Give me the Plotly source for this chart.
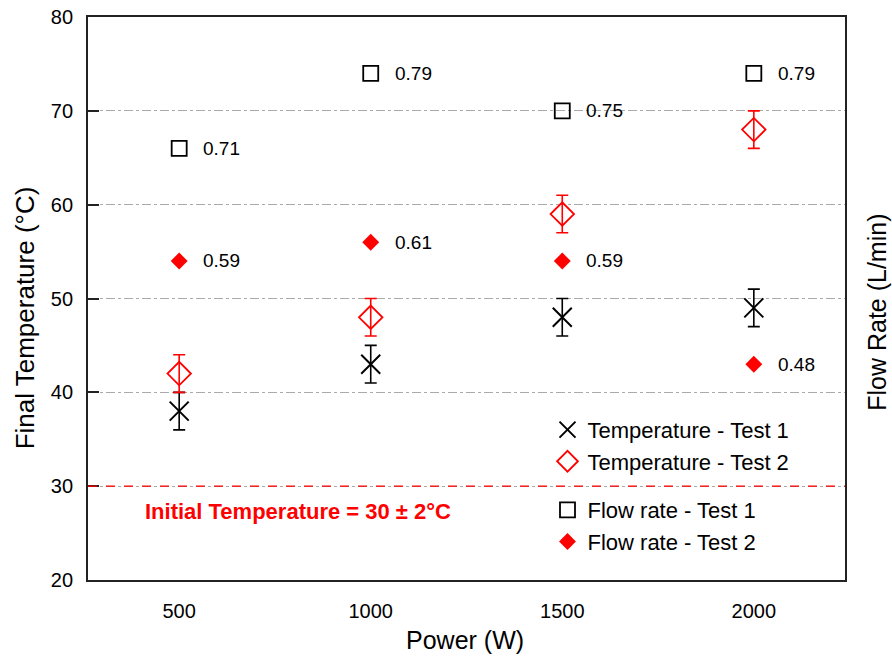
import plotly.graph_objects as go

# Heater power settings (W)
power = [500, 1000, 1500, 2000]

# Final water temperature (°C) with ±2 °C uncertainty
temp_test1 = [38, 43, 48, 49]
temp_test2 = [42, 48, 59, 68]
temp_err = [2, 2, 2, 2]

# Measured flow rate (L/min)
flow_test1 = [0.71, 0.79, 0.75, 0.79]
flow_test2 = [0.59, 0.61, 0.59, 0.48]

FONT = "Liberation Sans, Arial, sans-serif"
RED = "#ff0000"
FRAME = "#222222"

fig = go.Figure()

fig.add_trace(go.Scatter(
    x=power, y=temp_test1, mode="markers", name="Temperature - Test 1",
    legendgroup="temp",
    marker=dict(symbol="x-thin-open", size=19, color="black",
                line=dict(width=2, color="black")),
    error_y=dict(type="data", array=temp_err, visible=True,
                 color="black", thickness=1.6, width=6),
))
fig.add_trace(go.Scatter(
    x=power, y=temp_test2, mode="markers", name="Temperature - Test 2",
    legendgroup="temp",
    marker=dict(symbol="diamond-open", size=18, color=RED,
                line=dict(width=1.8, color=RED)),
    error_y=dict(type="data", array=temp_err, visible=True,
                 color=RED, thickness=1.6, width=6),
))
fig.add_trace(go.Scatter(
    x=power, y=flow_test1, mode="markers", name="Flow rate - Test 1",
    legendgroup="flow", yaxis="y2",
    marker=dict(symbol="square-open", size=15, color="black",
                line=dict(width=1.8, color="#222")),
))
fig.add_trace(go.Scatter(
    x=power, y=flow_test2, mode="markers", name="Flow rate - Test 2",
    legendgroup="flow", yaxis="y2",
    marker=dict(symbol="diamond", size=13, color=RED),
))

# Value labels next to the flow-rate markers
for series in (flow_test1, flow_test2):
    for p, f in zip(power, series):
        fig.add_annotation(
            x=p, y=f, yref="y2", text=f"{f:.2f}", showarrow=False,
            xanchor="left", yanchor="middle", xshift=22,
            font=dict(family=FONT, size=19, color="black"),
        )

# Initial temperature reference line
initial_temp = 30
fig.add_shape(type="line", xref="x domain", yref="y", x0=0, x1=1,
              y0=initial_temp, y1=initial_temp,
              line=dict(color=RED, width=1.4, dash="dash"))
fig.add_annotation(
    x=0.277, xref="paper", y=27.25, yref="y",
    xanchor="center", yanchor="middle",
    text=f"<b>Initial Temperature = {initial_temp} ± 2°C</b>",
    showarrow=False, font=dict(family=FONT, size=22, color=RED),
)

# Axis titles
fig.add_annotation(
    x=0.498, xref="paper", y=-0.107, yref="paper", text="Power (W)",
    showarrow=False, xanchor="center", yanchor="middle",
    font=dict(family=FONT, size=25, color="black"),
)
fig.add_annotation(
    x=-0.083, xref="paper", y=0.465, yref="paper",
    text="Final Temperature (°C)", textangle=-90,
    showarrow=False, xanchor="center", yanchor="middle",
    font=dict(family=FONT, size=26, color="black"),
)
fig.add_annotation(
    x=1.042, xref="paper", y=0.476, yref="paper",
    text="Flow Rate (L/min)", textangle=-90,
    showarrow=False, xanchor="center", yanchor="middle",
    font=dict(family=FONT, size=25, color="black"),
)

fig.update_layout(
    width=892, height=661,
    margin=dict(l=88, r=47, t=17, b=81),
    paper_bgcolor="white", plot_bgcolor="white",
    font=dict(family=FONT, size=20, color="black"),
    showlegend=True,
    legend=dict(
        x=0.607, y=0.304, xanchor="left", yanchor="top",
        bgcolor="rgba(0,0,0,0)", font=dict(size=22),
        traceorder="grouped", tracegroupgap=17,
        itemsizing="trace",
    ),
    xaxis=dict(
        range=[262, 2238], tickvals=power, ticks="",
        showgrid=False, zeroline=False, automargin=False,
        showline=True, linecolor=FRAME, linewidth=1.8, mirror=True,
        ticklabelstandoff=12,
        tickfont=dict(size=20),
    ),
    yaxis=dict(
        range=[20, 80], dtick=10, ticks="inside", ticklen=11,
        tickwidth=1.6, tickcolor=FRAME,
        showgrid=True, gridcolor="#aaaaaa", griddash="dashdot", gridwidth=1,
        zeroline=False, automargin=False,
        showline=True, linecolor=FRAME, linewidth=1.8, mirror=True,
        ticklabelstandoff=9,
        tickfont=dict(size=20),
    ),
    yaxis2=dict(
        range=[0.25, 0.85], overlaying="y", side="right",
        showticklabels=False, ticks="", showgrid=False, zeroline=False,
        showline=False, automargin=False,
    ),
)

fig.write_html("out.html")
